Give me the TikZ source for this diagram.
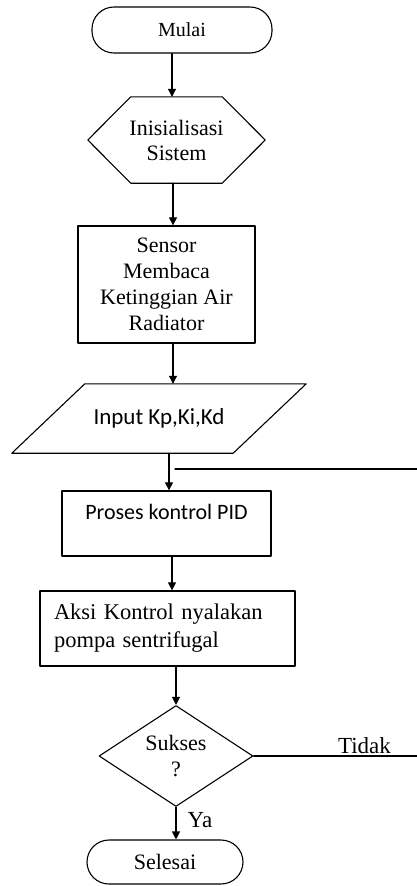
\documentclass[tikz,border=0pt]{standalone}
\usepackage{fontspec}
\setmainfont{Liberation Serif}
\newfontfamily\carlito{Carlito}
\usetikzlibrary{arrows.meta,calc,shapes.geometric}

\tikzset{
  flowline/.style={draw=black,line width=1.1pt},
  flowarrow/.style={flowline,-{Triangle[length=8pt,width=8pt]}},
  terminal/.style={draw=black,line width=1.1pt,rounded corners=22pt},
  procbox/.style={draw=black,line width=1.3pt,align=center},
  lbl/.style={font=\fontsize{23}{26}\selectfont,inner sep=0pt,anchor=base},
}

\begin{document}
\begin{tikzpicture}[x=1pt,y=-1pt,line cap=round,line join=round]
  \useasboundingbox (0,0) rectangle (417,886);

  \node[terminal,minimum width=180pt,minimum height=46pt,font=\fontsize{20}{23}\selectfont] (mulai) at (182,30) {Mulai};

  % hexagon outline drawn round the node
  \node[minimum width=177pt,minimum height=86pt,align=center,font=\fontsize{22}{25}\selectfont] (init) at (176.5,140) {Inisialisasi\\Sistem};
  \draw[flowline] (init.west) -- ($(init.north west)+(43,0)$) -- ($(init.north east)+(-43,0)$)
    -- (init.east) -- ($(init.south east)+(-43,0)$) -- ($(init.south west)+(43,0)$) -- cycle;

  \node[procbox,minimum width=177pt,minimum height=117pt,font=\fontsize{22}{26}\selectfont] (sensor) at (166.5,284.5) {Sensor\\Membaca\\Ketinggian Air\\Radiator};

  % parallelogram outline drawn round the node
  \node[minimum width=294pt,minimum height=69pt,font=\carlito\fontsize{23}{26}\selectfont] (input) at (159,418.5) {Input Kp,Ki,Kd};
  \draw[flowline] (input.south west) -- ($(input.north west)+(73,0)$) -- (input.north east)
    -- ($(input.south east)+(-73,0)$) -- cycle;

  \node[procbox,minimum width=209pt,inner ysep=4pt,text height=24pt,text depth=33pt,font=\carlito\fontsize{22}{25}\selectfont] (pid) at (166.5,523.5) {Proses kontrol PID};

  \node[procbox,minimum width=255pt,minimum height=75pt,inner xsep=14pt,text width=227pt,align=left,font=\fontsize{22.5}{28}\selectfont] (aksi) at (167.5,628.5) {Aksi Kontrol nyalakan\\pompa sentrifugal};

  \node[diamond,draw=black,line width=1.1pt,aspect=1.5,minimum width=154pt,minimum height=101pt,inner sep=0pt,align=center,font=\fontsize{22}{26}\selectfont] (sukses) at (176,756) {Sukses\\?};

  \node[terminal,minimum width=156pt,minimum height=44pt,font=\fontsize{22}{25}\selectfont] (selesai) at (165,862) {Selesai};

  \coordinate (loopin) at (175,469);
  \coordinate (loopout) at (417,469);
  \coordinate (tidakend) at (417,756);

  \draw[flowarrow] (mulai.south -| 172,0) -- (init.north -| 172,0);
  \draw[flowarrow] (init.south -| 173,0) -- (sensor.north -| 173,0);
  \draw[flowarrow] (sensor.south -| 173,0) -- (input.north -| 173,0);
  \draw[flowarrow] (input.south -| 169,0) -- (pid.north -| 169,0);
  \draw[flowarrow] (pid.south -| 172,0) -- (aksi.north -| 172,0);
  \draw[flowarrow] (aksi.south -| 176,0) -- (sukses.north);
  \draw[flowarrow] (sukses.south) -- (selesai.north -| sukses.south);
  \draw[flowline] (loopout) -- (loopin);
  \draw[flowline] (sukses.east) -- (tidakend);

  \node[lbl] (tidak) at (364.5,753) {Tidak};
  \node[lbl] (ya) at (200,827) {Ya};
\end{tikzpicture}
\end{document}
